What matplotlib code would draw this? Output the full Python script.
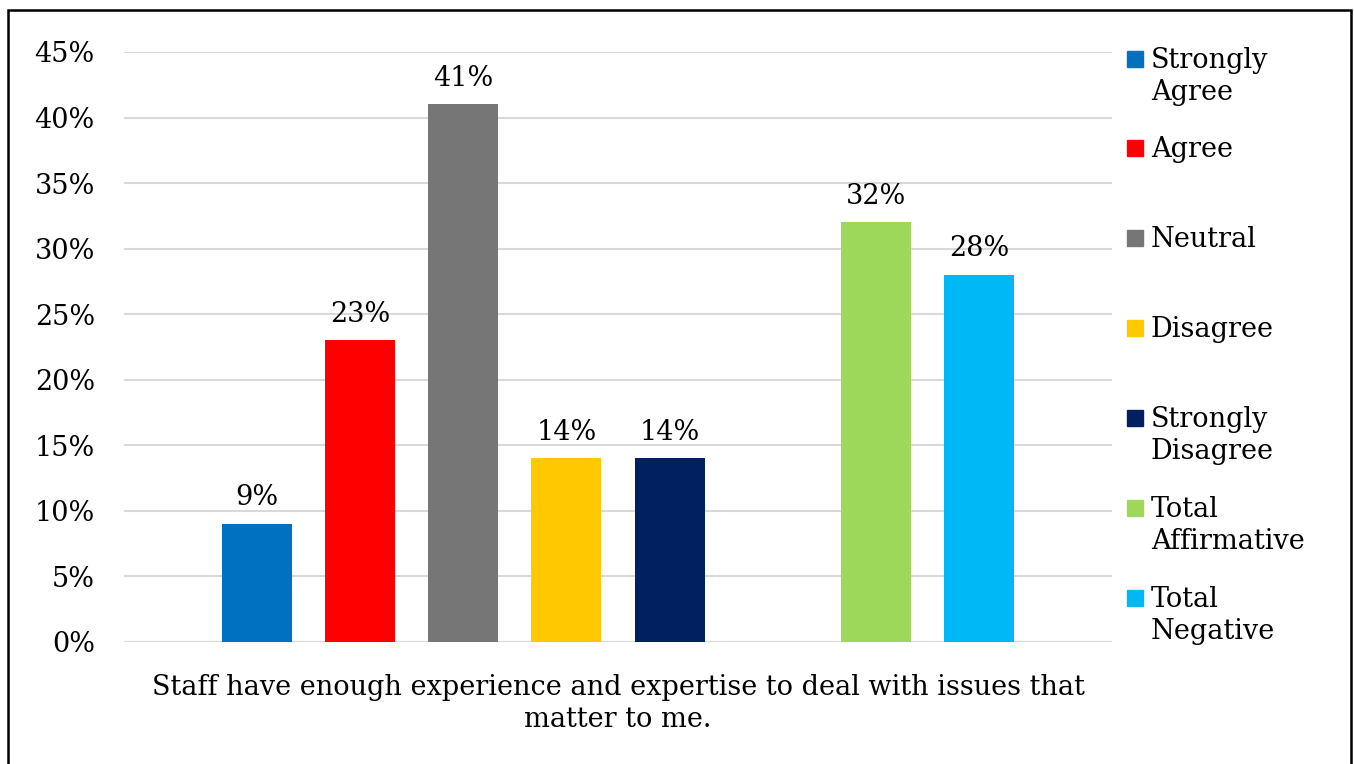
import numpy as np
import matplotlib.pyplot as plt
from matplotlib.patches import Rectangle

labels = ["Strongly\nAgree", "Agree", "Neutral", "Disagree",
          "Strongly\nDisagree", "Total\nAffirmative", "Total\nNegative"]
values = [9, 23, 41, 14, 14, 32, 28]
slots = [0, 1, 2, 3, 4, 6, 7]
colors = ["#0070c0", "#ff0000", "#767676", "#ffc800", "#002060", "#9dd85a", "#00b8f5"]
yticks = [0, 5, 10, 15, 20, 25, 30, 35, 40, 45]
xlabel = "Staff have enough experience and expertise to deal with issues that\nmatter to me."

plt.rcParams['font.family'] = ['DejaVu Serif']
W, H = 1354, 764
fig = plt.figure(figsize=(W / 100, H / 100), dpi=100)
ax = fig.add_axes([124 / W, 122 / H, 988 / W, 590 / H])

for s, v, c in zip(slots, values, colors):
    ax.bar(s, v / 100, width=70 / 103.2, color=c, zorder=3)
    ax.annotate(f"{v}%", (s, v / 100), xytext=(0, 19), textcoords="offset points",
                ha="center", va="center", fontsize=19.5)

ax.set_xlim(-1.29, 8.29)
ax.set_ylim(0, 0.45)
ax.set_yticks([t / 100 for t in yticks])
ax.set_yticklabels([f"{t}%" for t in yticks], fontsize=19.5)
ax.tick_params(axis="y", length=0, pad=21)
ax.set_xticks([])
ax.grid(axis="y", color="#d9d9d9", linewidth=1.5, zorder=0)
for sp in ax.spines.values():
    sp.set_visible(False)
ax.axhline(0, color="#d9d9d9", linewidth=1.5, zorder=2)
ax.set_xlabel(xlabel, fontsize=19.5, labelpad=23, linespacing=1.22)

# legend drawn by hand to follow the original spacing
leg_y = [59, 148, 238, 328, 418, 508, 598]
for lab, c, y in zip(labels, colors, leg_y):
    fig.patches.append(Rectangle((1127 / W, 1 - (y + 8) / H), 16 / W, 16 / H,
                                 transform=fig.transFigure, color=c))
    fig.text(1151 / W, 1 - (y - 12) / H, lab, fontsize=19.5, va="top", ha="left",
             linespacing=1.25)

fig.patches.append(Rectangle((8 / W, -10 / H), 1343 / W, (H - 10 + 10) / H,
                             transform=fig.transFigure, fill=False,
                             edgecolor="black", linewidth=1.8))

fig.savefig("out.png", dpi=100)
